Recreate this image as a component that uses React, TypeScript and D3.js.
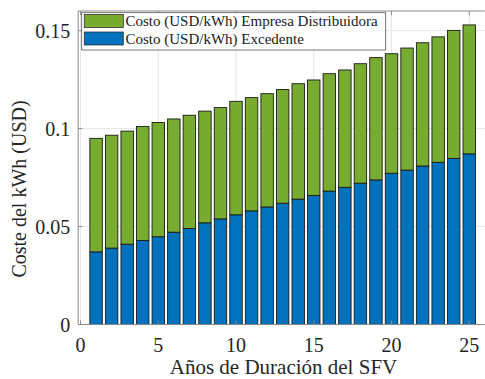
import React from 'react';
import * as d3 from 'd3';

// años 1..25
const years = d3.range(1, 26);
// Costo (USD/kWh) Excedente (bloque inferior, azul)
const excedente = [0.0371, 0.0390, 0.0410, 0.0429, 0.0448, 0.0471, 0.0490, 0.0519, 0.0539, 0.0560,
  0.0580, 0.0600, 0.0619, 0.0640, 0.0658, 0.0681, 0.0700, 0.0721, 0.0738, 0.0772,
  0.0788, 0.0809, 0.0828, 0.0848, 0.0871];
// Costo (USD/kWh) Empresa Distribuidora (bloque superior, verde)
const distribuidora = [0.0579, 0.0576, 0.0577, 0.0582, 0.0583, 0.0578, 0.0578, 0.0570, 0.0568, 0.0579,
  0.0578, 0.0578, 0.0580, 0.0589, 0.0590, 0.0599, 0.0599, 0.0610, 0.0624, 0.0610,
  0.0623, 0.0629, 0.0640, 0.0653, 0.0658];
const xTicks = [0, 5, 10, 15, 20, 25];
const yTicks = [0, 0.05, 0.1, 0.15];
const yTickLabels = ['0', '0.05', '0.1', '0.15'];
const legendLabels = ['Costo (USD/kWh) Empresa Distribuidora', 'Costo (USD/kWh) Excedente'];

const W = 485, H = 379;
const left = 78.2, right = 484.8, top = 11, bottom = 324.5;
const serif = { fontFamily: "'Liberation Serif', 'Times New Roman', serif" };
const blue = '#0072BD', green = '#77AC30';

export default function App() {
  const x = d3.scaleLinear().domain([-0.15, 26]).range([left, right]);
  const y = d3.scaleLinear().domain([0, 0.16]).range([bottom, top]);
  const bw = (x(1) - x(0)) * 0.8;

  const table = years.map((yr, i) => ({ year: yr, exc: excedente[i], dist: distribuidora[i] }));
  const series = d3.stack<any>().keys(['exc', 'dist'])(table);
  const colors: Record<string, string> = { exc: blue, dist: green };

  return (
    <svg width={W} height={H} style={{ position: 'absolute', left: 0, top: 0, background: '#fff' }}>
      {/* grid */}
      {xTicks.map(t => (
        <line key={'gx' + t} x1={x(t)} x2={x(t)} y1={top} y2={bottom} stroke="#e6e6e6" />
      ))}
      {yTicks.map(t => (
        <line key={'gy' + t} x1={left} x2={right} y1={y(t)} y2={y(t)} stroke="#e6e6e6" />
      ))}
      {/* bars */}
      {series.map(s => (
        <g key={s.key} fill={colors[s.key]} stroke="#1a1a1a" strokeWidth={0.9}>
          {s.map((d, i) => (
            <rect key={i} x={x(d.data.year) - bw / 2} width={bw} y={y(d[1])} height={y(d[0]) - y(d[1])} />
          ))}
        </g>
      ))}
      {/* axes box */}
      <g stroke="#8a8a8a" strokeWidth={1} fill="none">
        <line x1={left} x2={right} y1={bottom} y2={bottom} />
        <line x1={left} x2={right} y1={top} y2={top} />
        <line x1={left} x2={left} y1={top} y2={bottom} />
        {xTicks.map(t => (
          <g key={'tx' + t}>
            <line x1={x(t)} x2={x(t)} y1={bottom} y2={bottom - 4} />
            <line x1={x(t)} x2={x(t)} y1={top} y2={top + 4} />
          </g>
        ))}
        {yTicks.map(t => (
          <line key={'ty' + t} x1={left} x2={left + 4} y1={y(t)} y2={y(t)} />
        ))}
      </g>
      {/* tick labels */}
      {xTicks.map(t => (
        <text key={'lx' + t} x={x(t)} y={bottom + 27} textAnchor="middle" fontSize={20} fill="#262626" style={serif}>{t}</text>
      ))}
      {yTicks.map((t, i) => (
        <text key={'ly' + t} x={left - 8} y={y(t) + 7} textAnchor="end" fontSize={20} fill="#262626" style={serif}>{yTickLabels[i]}</text>
      ))}
      <text x={(left + right) / 2 + 2} y={374} textAnchor="middle" fontSize={21} fill="#262626" style={serif}>Años de Duración del SFV</text>
      <text transform={`translate(26,189) rotate(-90)`} textAnchor="middle" fontSize={20} fill="#262626" style={serif}>Coste del kWh (USD)</text>
      {/* legend */}
      <rect x={81.7} y={12.7} width={304} height={37.3} fill="#fff" stroke="#555" strokeWidth={0.8} />
      {legendLabels.map((lab, i) => (
        <g key={lab}>
          <rect x={84.3} y={14.5 + i * 17.5} width={39} height={13} fill={i === 0 ? green : blue} stroke="#333" strokeWidth={0.8} />
          <text x={125.5} y={26 + i * 17.5} fontSize={15} fill="#1a1a1a" style={serif}>{lab}</text>
        </g>
      ))}
    </svg>
  );
}
